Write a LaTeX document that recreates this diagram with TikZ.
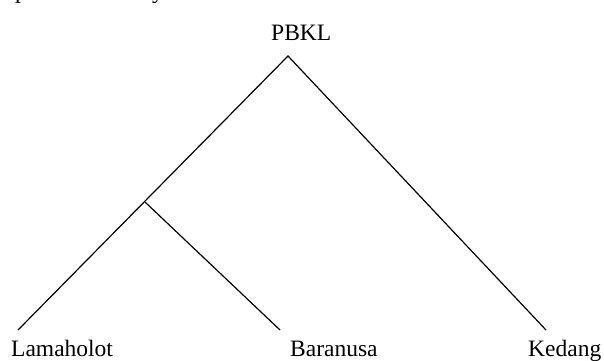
\documentclass[tikz,border=0pt]{standalone}
\usepackage{fontspec}
\setmainfont{Liberation Serif}
\begin{document}
\begin{tikzpicture}[x=1pt,y=-1pt,
  lbl/.style={inner sep=0pt,font=\fontsize{23.5}{28}\selectfont},
  branch/.style={line width=1.2pt,black}]
\useasboundingbox (0,0) rectangle (604,360);
\clip (0,0) rectangle (604,360);
% tails of the preceding text line
\node[lbl,anchor=base west] (pp) at (15,-1.5) {p};
\node[lbl,anchor=base west] (yy) at (152,-1.5) {y};
% tree
\node[lbl,anchor=base west] (root) at (271,40) {PBKL};
\coordinate (apex) at (288,56);
\coordinate (split) at (145,202);
\coordinate (lend) at (18,330);
\coordinate (mend) at (280,330);
\coordinate (rend) at (546,330);
\draw[branch] (lend) -- (apex) -- (rend);
\draw[branch] (split) -- (mend);
\node[lbl,anchor=base west] (lam) at (11,356) {Lamaholot};
\node[lbl,anchor=base west] (bar) at (290,356) {Baranusa};
\node[lbl,anchor=base west] (ked) at (528,356) {Kedang};
\end{tikzpicture}
\end{document}
